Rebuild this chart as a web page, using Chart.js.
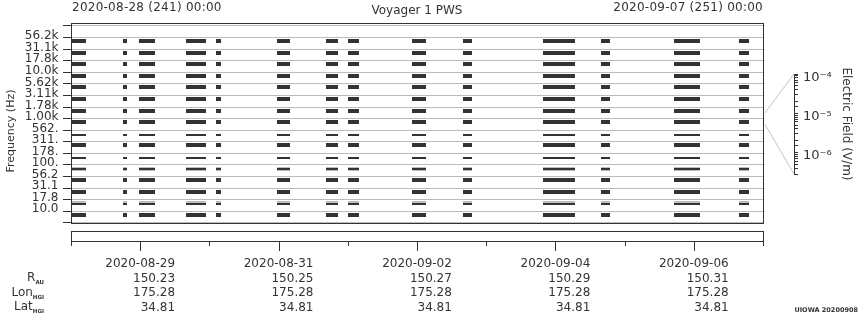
<!DOCTYPE html>
<html>
<head>
<meta charset="utf-8">
<script src="https://cdn.jsdelivr.net/npm/chart.js@4.4.1/dist/chart.umd.min.js"></script>
<style>
  html, body { margin: 0; padding: 0; background: #fff; }
  #wrap { position: relative; width: 860px; height: 320px; overflow: hidden;
          font-family: 'DejaVu Sans', sans-serif; color: #333; }
  #wrap canvas { position: absolute; }
  .txt { position: absolute; white-space: nowrap; font-size: 12px; line-height: 14px; }
  .sub { font-size: 5.5px; font-weight: bold; vertical-align: -3px; }
</style>
</head>
<body>
<div id="wrap">
  <canvas id="main" width="860" height="320" style="left:0;top:0"></canvas>
  <canvas id="cbar" width="97" height="130" style="left:763px;top:60px"></canvas>

  <div class="txt" style="left:72px;top:0px;letter-spacing:0.25px">2020-08-28 (241) 00:00</div>
  <div class="txt" style="left:417px;top:3px;transform:translateX(-50%)">Voyager 1 PWS</div>
  <div class="txt" style="right:97px;top:0px;letter-spacing:0.25px">2020-09-07 (251) 00:00</div>
  <div class="txt" style="left:11px;top:131px;font-size:11px;transform:translate(-50%,-50%) rotate(-90deg)">Frequency (Hz)</div>

  <div class="txt" style="right:816px;top:270px">R<span class="sub">AU</span></div>
  <div class="txt" style="right:816px;top:285px">Lon<span class="sub">HGI</span></div>
  <div class="txt" style="right:816px;top:299px">Lat<span class="sub">HGI</span></div>
  <div class="txt" style="right:2px;top:303px;font-size:6.5px;font-weight:bold">UIOWA 20200908</div>
</div>

<script>
// frequency channels, bottom to top
const freqLabels = ['10.0', '17.8', '31.1', '56.2', '100.', '178.', '311.', '562.',
                    '1.00k', '1.78k', '3.11k', '5.62k', '10.0k', '17.8k', '31.1k', '56.2k'];

// data received, hours after 2020-08-28 00:00
const segStart = [0, 18.0, 23.6, 39.9, 50.3, 71.5, 88.4, 96.1, 118.3, 136.0, 163.7, 183.8, 209.1, 231.7];
const segEnd   = [5.2, 19.4, 29.1, 46.8, 52.0, 76.0, 92.6, 99.9, 123.1, 139.1, 174.8, 186.9, 218.2, 235.2];

// weaker channels (thin bar) and channels with faint signal above the bar
const thinChannels = [1, 4, 5, 7];
const faintChannels = [1, 4];

// time axis below the plot
const dayTicks = [0, 24, 48, 72, 96, 120, 144, 168, 192, 216, 240];
const dateHours = [24, 72, 120, 168, 216];
const dateLabels = ['2020-08-29', '2020-08-31', '2020-09-02', '2020-09-04', '2020-09-06'];
const rAU    = ['150.23', '150.25', '150.27', '150.29', '150.31'];
const lonHGI = ['175.28', '175.28', '175.28', '175.28', '175.28'];
const latHGI = ['34.81', '34.81', '34.81', '34.81', '34.81'];

// spectrum colour scale (V/m)
const cbMin = 2.82e-7;
const cbMax = 1e-4;
const cbDecades = [-6, -5, -4];
const cbLabels = ['10\u207B\u2076', '10\u207B\u2075', '10\u207B\u2074'];
const selectedChannel = 8;

Chart.defaults.font.family = "'DejaVu Sans', sans-serif";
Chart.defaults.font.size = 12;
Chart.defaults.color = '#333';

const Y_MAX = 16.244;      // a little headroom above the top channel
const CB_TOP = 60;         // top of the colour bar canvas on the page
const INK = '#333';

const allChannels = freqLabels.map((_, i) => i);
const thickChannels = allChannels.filter(i => !thinChannels.includes(i));

function segmentsFor(channels, lift) {
  const pts = [];
  channels.forEach(ch => {
    segStart.forEach((s, k) => pts.push({ y: ch + lift, x: [s, segEnd[k]] }));
  });
  return pts;
}

// snap bar edges to whole pixels so the strips stay crisp
const snapPlugin = {
  id: 'snap',
  beforeDatasetsDraw(chart) {
    chart.getSortedVisibleDatasetMetas().forEach(meta => {
      meta.data.forEach(el => {
        el.y = Math.round(el.y);
        el.x = Math.round(el.x);
        el.base = Math.round(el.base);
      });
    });
  }
};

// frame, time box, day ticks and the ephemeris rows
const timelinePlugin = {
  id: 'timeline',
  afterDraw(chart) {
    const { ctx, chartArea: a, scales: { x } } = chart;
    ctx.save();
    ctx.strokeStyle = INK;
    ctx.lineWidth = 1;
    ctx.strokeRect(a.left + 0.5, a.top + 0.5, a.right - a.left, a.bottom - a.top);
    ctx.strokeRect(a.left + 0.5, 231.5, a.right - a.left, 10);

    ctx.beginPath();
    dayTicks.forEach(h => {
      const px = Math.round(x.getPixelForValue(h)) + 0.5;
      const len = dateHours.includes(h) ? 9 : 4;
      ctx.moveTo(px, 242);
      ctx.lineTo(px, 242 + len);
    });
    ctx.stroke();

    ctx.font = "12px 'DejaVu Sans'";
    ctx.fillStyle = INK;
    ctx.textBaseline = 'alphabetic';
    dateHours.forEach((h, i) => {
      const px = x.getPixelForValue(h);
      const w = ctx.measureText(dateLabels[i]).width;
      ctx.textAlign = 'center';
      ctx.fillText(dateLabels[i], px, 267);
      ctx.textAlign = 'right';
      ctx.fillText(rAU[i], px + w / 2, 281.5);
      ctx.fillText(lonHGI[i], px + w / 2, 296);
      ctx.fillText(latHGI[i], px + w / 2, 310.5);
    });
    ctx.restore();
  }
};

const mainChart = new Chart(document.getElementById('main'), {
  type: 'bar',
  data: {
    datasets: [
      { label: 'strong', data: segmentsFor(thickChannels, 0.19), backgroundColor: INK, barThickness: 4, order: 0 },
      { label: 'weak', data: segmentsFor(thinChannels, 0.11), backgroundColor: INK, barThickness: 2, order: 0 },
      { label: 'faint', data: segmentsFor(faintChannels, 0.19), backgroundColor: '#bdbdbd', barThickness: 4, order: 1 }
    ]
  },
  options: {
    indexAxis: 'y',
    responsive: false,
    animation: false,
    events: [],
    layout: { padding: { left: 0, top: 23, right: 97, bottom: 97 } },
    datasets: { bar: { grouped: false, borderWidth: 0, inflateAmount: 0 } },
    plugins: {
      legend: { display: false },
      title: { display: false },
      tooltip: { enabled: false }
    },
    scales: {
      x: { type: 'linear', display: false, min: 0, max: 240 },
      y: {
        type: 'linear', position: 'left', min: 0, max: Y_MAX, weight: 0,
        afterBuildTicks: s => { s.ticks = freqLabels.concat(['']).map((_, i) => ({ value: i })); },
        afterFit: s => { s.width = 8; },
        border: { display: false },
        grid: { color: '#bbb', tickColor: INK, tickLength: 8 },
        ticks: { display: false }
      },
      yl: {
        type: 'linear', position: 'left', min: 0, max: Y_MAX, weight: 1,
        afterBuildTicks: s => { s.ticks = freqLabels.map((_, i) => ({ value: i + 0.64 })); },
        afterFit: s => { s.width = 63; },
        border: { display: false },
        grid: { display: false, drawTicks: false },
        ticks: { autoSkip: false, padding: 4.5, color: INK, callback: (v, i) => freqLabels[i] }
      }
    }
  },
  plugins: [snapPlugin, timelinePlugin]
});

// grey lines from the selected channel to the colour bar
const connectorPlugin = {
  id: 'connector',
  afterDraw(chart) {
    const { ctx, chartArea: a } = chart;
    const ys = mainChart.scales.y;
    const yHi = ys.getPixelForValue(selectedChannel + 1) - CB_TOP;
    const yLo = ys.getPixelForValue(selectedChannel) - CB_TOP;
    ctx.save();
    ctx.strokeStyle = '#c4c4c4';
    ctx.lineWidth = 1;
    ctx.beginPath();
    ctx.moveTo(2, yHi);
    ctx.lineTo(a.right, a.top);
    ctx.moveTo(2, yLo);
    ctx.lineTo(a.right, a.bottom);
    ctx.stroke();
    ctx.restore();
  }
};

new Chart(document.getElementById('cbar'), {
  type: 'scatter',
  data: { datasets: [] },
  options: {
    responsive: false,
    animation: false,
    events: [],
    layout: { padding: { left: 0, right: 0, top: 14, bottom: 16 } },
    plugins: { legend: { display: false }, tooltip: { enabled: false } },
    scales: {
      x: { display: false },
      y: {
        type: 'logarithmic', position: 'right', min: cbMin, max: cbMax,
        afterFit: s => { s.width = 66; },
        border: { display: true, color: INK },
        grid: { drawOnChartArea: false, tickLength: 4, tickColor: INK },
        ticks: {
          autoSkip: false, padding: 5, labelOffset: 3.5, color: INK,
          font: { size: 13 },
          callback: v => {
            const e = Math.log10(v);
            const k = cbDecades.indexOf(Math.round(e));
            return (Math.abs(e - Math.round(e)) < 1e-6 && k >= 0) ? cbLabels[k] : '';
          }
        },
        title: { display: true, text: 'Electric Field (V/m)', color: INK, padding: { top: 7, bottom: 0 } }
      }
    }
  },
  plugins: [connectorPlugin]
});
</script>
</body>
</html>
